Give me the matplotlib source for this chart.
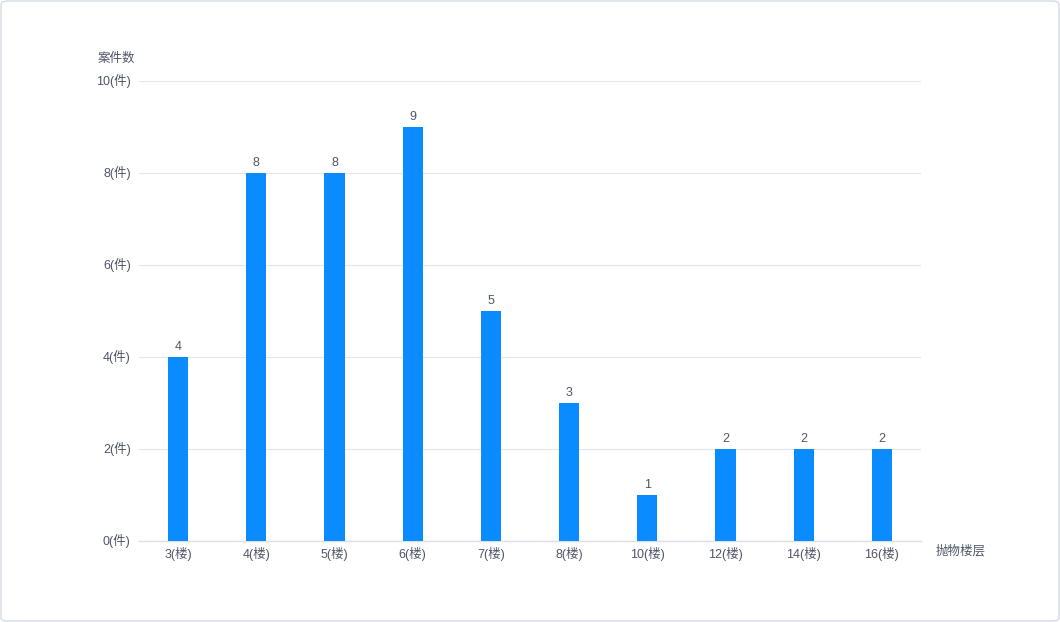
import matplotlib
matplotlib.use("Agg")
import matplotlib.pyplot as plt
from matplotlib.patches import FancyBboxPatch
from matplotlib.transforms import ScaledTranslation

plt.rcParams['font.family'] = ['Liberation Sans', 'Noto Sans CJK SC', 'DejaVu Sans']

categories = ["3(楼)", "4(楼)", "5(楼)", "6(楼)", "7(楼)", "8(楼)", "10(楼)", "12(楼)", "14(楼)", "16(楼)"]
values = [4, 8, 8, 9, 5, 3, 1, 2, 2, 2]
yticks = [0, 2, 4, 6, 8, 10]
ytick_labels = ["0(件)", "2(件)", "4(件)", "6(件)", "8(件)", "10(件)"]

text_color = "#4e5566"
bar_color = "#0A8BFF"

fig = plt.figure(figsize=(10.6, 6.22), dpi=100)
fig.patch.set_facecolor("white")
border = FancyBboxPatch((1/1060, 1/622), 1 - 2/1060, 1 - 2/622,
                        boxstyle="round,pad=0,rounding_size=0.006",
                        transform=fig.transFigure, facecolor="white",
                        edgecolor="#d5dae5", linewidth=1.0, zorder=-10)
fig.patches.append(border)

ax = fig.add_axes([139/1060, 1 - 541/622, 782/1060, 460/622])
ax.set_facecolor("none")
x = list(range(len(categories)))
ax.bar(x, values, width=0.256, color=bar_color, zorder=3)
for xi, v in zip(x, values):
    ax.text(xi, v + 0.09, str(v), ha="center", va="bottom", fontsize=9, color=text_color)

ax.set_xlim(-0.5, len(categories) - 0.5)
ax.set_ylim(0, 10)
ax.set_yticks(yticks)
ax.set_yticklabels(ytick_labels)
ax.set_xticks(x)
ax.set_xticklabels(categories)
ax.tick_params(axis="both", length=0, labelsize=9, labelcolor=text_color)
ax.tick_params(axis="y", pad=6)
ax.tick_params(axis="x", pad=4.5)
for lab in ax.get_yticklabels():
    lab.set_transform(lab.get_transform() + ScaledTranslation(0, 2/100, fig.dpi_scale_trans))
ax.grid(axis="y", color="#e3e6ec", linewidth=0.8, zorder=0)
for s in ["top", "right", "left"]:
    ax.spines[s].set_visible(False)
ax.spines["bottom"].set_color("#dcdfe8")
ax.spines["bottom"].set_linewidth(1.0)

fig.text(98/1060, 1 - 59/622, "案件数", ha="left", va="center", fontsize=9, color=text_color)
fig.text(936/1060, 1 - 551/622, "抛物楼层", ha="left", va="center", fontsize=9, color=text_color)

fig.savefig("out.png", dpi=100)
